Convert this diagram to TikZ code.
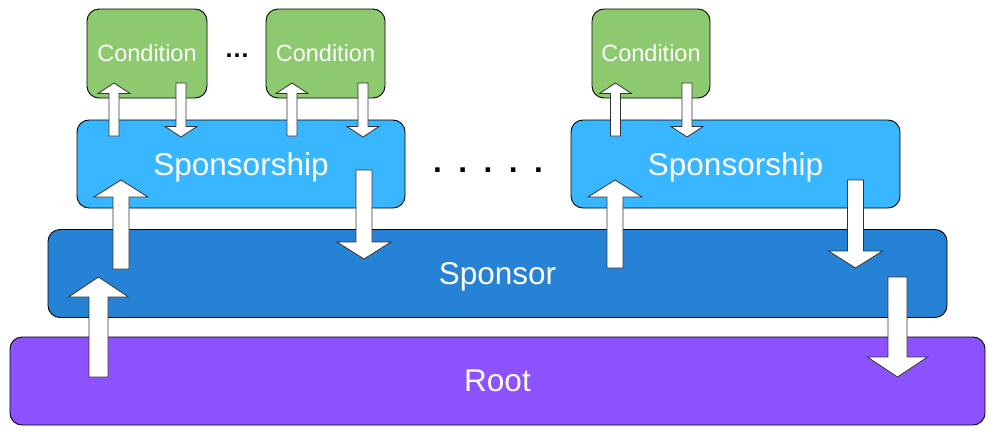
\documentclass[tikz,border=0pt]{standalone}
\usepackage{fontspec}
\setmainfont{Liberation Sans}
\usetikzlibrary{calc}

\definecolor{condgreen}{RGB}{141,201,111}
\definecolor{shipblue}{RGB}{56,182,255}
\definecolor{sponsorblue}{RGB}{38,130,212}
\definecolor{rootpurple}{RGB}{140,82,255}

\tikzset{
  box/.style={draw=black, line width=0.9pt, rounded corners=12pt, text=white, inner sep=0pt},
  bigtext/.style={font=\fontsize{31.5}{36}\selectfont, text depth=0pt},
  fat/.style n args={3}{draw=black!80, fill=white, line width=0.8pt,
    to path={let \p1=(\tikztostart), \p2=(\tikztotarget),
      \n1={#3*sign(\y2-\y1)} in
      (\x1-#1,\y1) -- (\x1-#1,\y2-\n1) -- (\x1-#2,\y2-\n1) -- (\x2,\y2)
      -- (\x1+#2,\y2-\n1) -- (\x1+#1,\y2-\n1) -- (\x1+#1,\y1) -- cycle}},
  bigarrow/.style={fat={9.5pt}{30pt}{20pt}},
  midarrow/.style={fat={8pt}{27pt}{17pt}},
  smallarrow/.style={fat={5pt}{16pt}{10.5pt}}
}

\begin{document}
\begin{tikzpicture}[x=1pt, y=-1pt]
    \useasboundingbox (0,0) rectangle (998,439);

    \begin{scope}[every node/.style={box, bigtext, minimum height=88pt}]
        \node[fill=rootpurple, minimum width=975pt] (root) at (497.5,381) {Root};
        \node[fill=sponsorblue, minimum width=899pt] (sponsor) at (497.5,273.5) {Sponsor};
        \node[fill=shipblue, minimum width=328pt] (s1) at (241,164) {Sponsorship};
        \node[fill=shipblue, minimum width=329pt] (s2) at (735.5,164) {Sponsorship};
    \end{scope}

    \begin{scope}[every node/.style={box, fill=condgreen, minimum height=89pt,
        font=\fontsize{23.5}{28}\selectfont}]
        \node[minimum width=120pt] (c1) at (147,53.5) {Condition};
        \node[minimum width=119pt] (c2) at (325.5,53.5) {Condition};
        \node[minimum width=118pt] (c3) at (651,53.5) {Condition};
    \end{scope}

    % the gaps
    \node[anchor=base, inner sep=0pt, font=\fontsize{25}{30}\selectfont\bfseries] (more) at (237,57) {…};
    \node[anchor=base, inner sep=0pt, font=\fontsize{31.5}{36}\selectfont\bfseries] (gap) at (488,172)
        {.\hspace{16.5pt}.\hspace{16.5pt}.\hspace{16.5pt}.\hspace{16.5pt}.};

    % arrow ends: name/x/tail/tip
    \foreach \arr/\ax/\ta/\tb in {rootup/98.5/377/277, rootdown/897.5/277/377,
        s1up/121/269/180, s1down/364/170/259, s2up/615/268/180, s2down/855.5/180/268,
        c1up/114/136/83, c1down/181/83/137, c2up/292/136/83, c2down/363/83/137,
        c3up/615.5/136/83, c3down/687/83/137}{
        \coordinate (\arr tail) at (\ax,\ta);
        \coordinate (\arr tip) at (\ax,\tb);
    }

    \foreach \arr in {rootup,rootdown}
        \draw[bigarrow] (\arr tail) to (\arr tip);
    \foreach \arr in {s1up,s1down,s2up,s2down}
        \draw[midarrow] (\arr tail) to (\arr tip);
    \foreach \arr in {c1up,c1down,c2up,c2down,c3up,c3down}
        \draw[smallarrow] (\arr tail) to (\arr tip);

\end{tikzpicture}
\end{document}
